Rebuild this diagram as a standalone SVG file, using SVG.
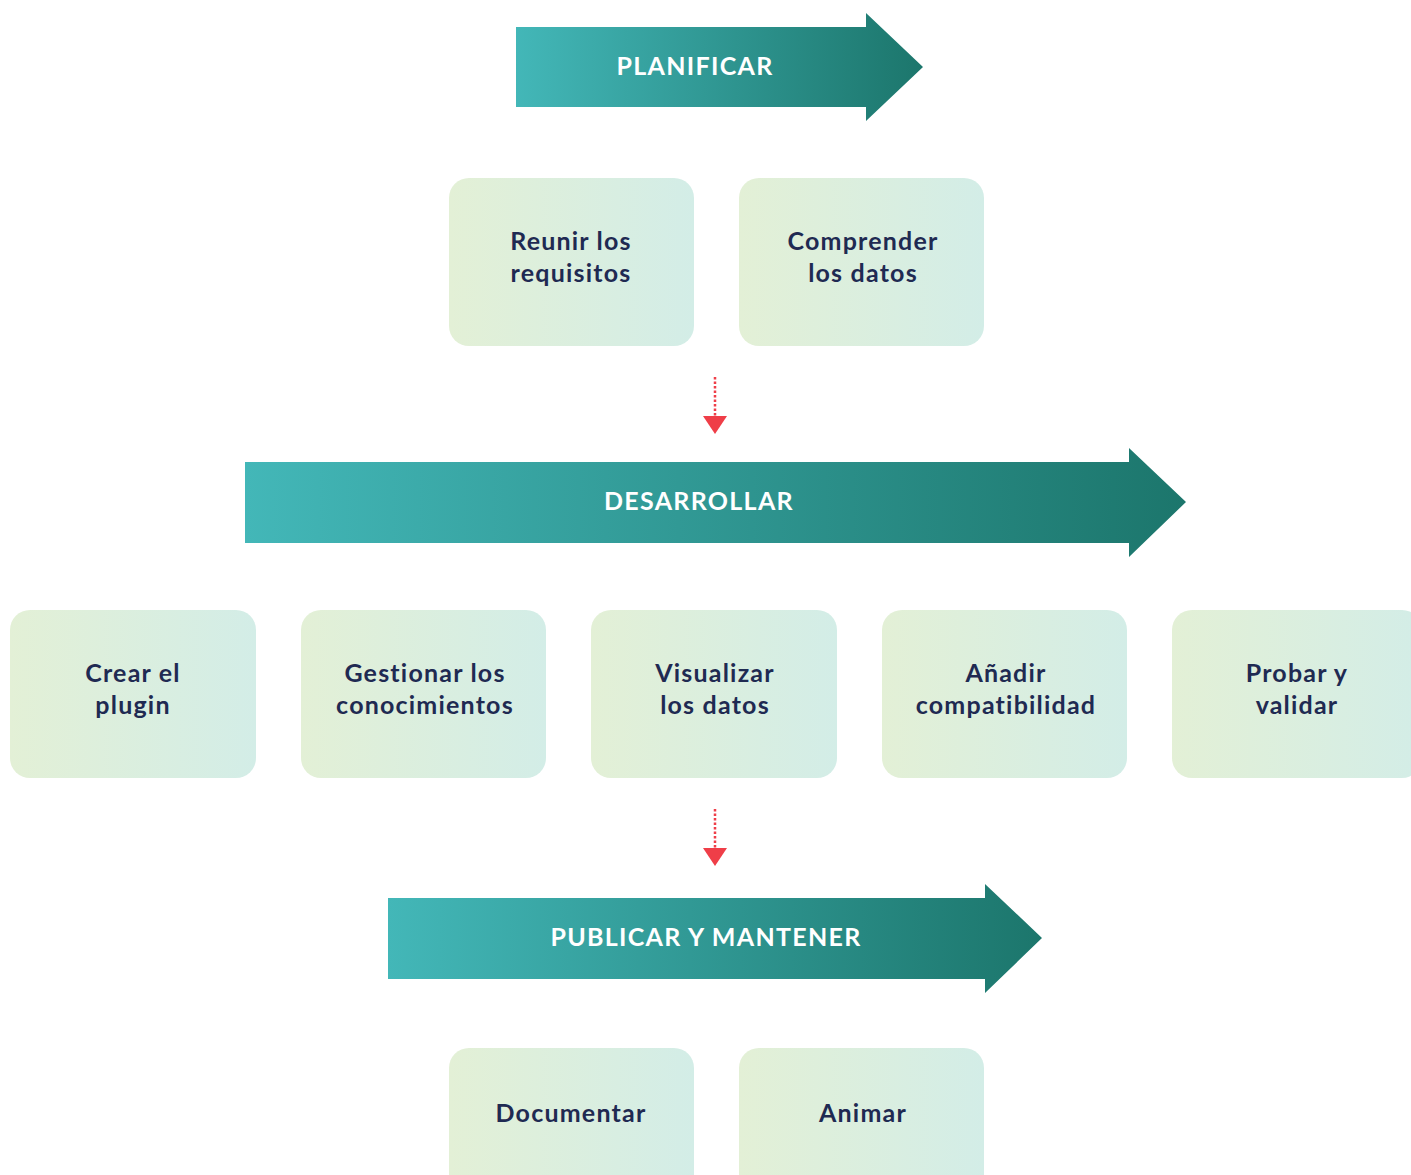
<svg xmlns="http://www.w3.org/2000/svg" width="1411" height="1175" viewBox="0 0 1411 1175">
<defs>
<linearGradient id="ag" x1="0" y1="0" x2="1" y2="0">
<stop offset="0" stop-color="#43b7b8"/>
<stop offset="1" stop-color="#1c766c"/>
</linearGradient>
<linearGradient id="bg" x1="0" y1="0" x2="1" y2="0">
<stop offset="0" stop-color="#e3f0d6"/>
<stop offset="1" stop-color="#d3ede7"/>
</linearGradient>
</defs>
<style>
.arrow{fill:url(#ag)}
.box{fill:url(#bg)}
.at{font-family:"Lato","Noto Sans",sans-serif;font-weight:700;font-size:25px;letter-spacing:1.3px;fill:#ffffff;text-anchor:middle}
.bt{font-family:"Lato","Noto Sans",sans-serif;font-weight:700;font-size:25px;letter-spacing:1.2px;fill:#1f2a52;text-anchor:middle}
.dot{stroke:#ef3e48;stroke-width:2.5;stroke-dasharray:2.5 2;fill:none}
.head{fill:#ef3e48}
</style>
<rect width="1411" height="1175" fill="#ffffff"/>

<g id="planificar">
<path class="arrow" d="M516 27 H866 V13 L923 67 L866 121 V107 H516 Z"/>
<text class="at" x="695" y="75">PLANIFICAR</text>
</g>
<g id="reunir">
<rect class="box" x="449" y="178" width="245" height="168" rx="20"/>
<text class="bt" x="571" y="250">Reunir los</text>
<text class="bt" x="571" y="282">requisitos</text>
</g>
<g id="comprender">
<rect class="box" x="739" y="178" width="245" height="168" rx="20"/>
<text class="bt" x="863" y="250">Comprender</text>
<text class="bt" x="863" y="282">los datos</text>
</g>

<g id="desarrollar">
<path class="arrow" d="M245 462 H1129 V448 L1186 502 L1129 557 V543 H245 Z"/>
<text class="at" x="699" y="510">DESARROLLAR</text>
</g>
<g id="crear">
<rect class="box" x="10" y="610" width="246" height="168" rx="20"/>
<text class="bt" x="133" y="682">Crear el</text>
<text class="bt" x="133" y="714">plugin</text>
</g>
<g id="gestionar">
<rect class="box" x="301" y="610" width="245" height="168" rx="20"/>
<text class="bt" x="425" y="682">Gestionar los</text>
<text class="bt" x="425" y="714">conocimientos</text>
</g>
<g id="visualizar">
<rect class="box" x="591" y="610" width="246" height="168" rx="20"/>
<text class="bt" x="715" y="682">Visualizar</text>
<text class="bt" x="715" y="714">los datos</text>
</g>
<g id="anadir">
<rect class="box" x="882" y="610" width="245" height="168" rx="20"/>
<text class="bt" x="1006" y="682">Añadir</text>
<text class="bt" x="1006" y="714">compatibilidad</text>
</g>
<g id="probar">
<rect class="box" x="1172" y="610" width="250" height="168" rx="20"/>
<text class="bt" x="1297" y="682">Probar y</text>
<text class="bt" x="1297" y="714">validar</text>
</g>

<g id="publicar">
<path class="arrow" d="M388 898 H985 V884 L1042 938 L985 993 V979 H388 Z"/>
<text class="at" x="706" y="946">PUBLICAR Y MANTENER</text>
</g>
<g id="documentar">
<rect class="box" x="449" y="1048" width="245" height="168" rx="20"/>
<text class="bt" x="571" y="1122">Documentar</text>
</g>
<g id="animar">
<rect class="box" x="739" y="1048" width="245" height="168" rx="20"/>
<text class="bt" x="863" y="1122">Animar</text>
</g>

<g id="connectors">
<line class="dot" x1="715" y1="377" x2="715" y2="416"/>
<path class="head" d="M703 416 H727 L715 434 Z"/>
<line class="dot" x1="715" y1="809" x2="715" y2="848"/>
<path class="head" d="M703 848 H727 L715 866 Z"/>
</g>
</svg>
